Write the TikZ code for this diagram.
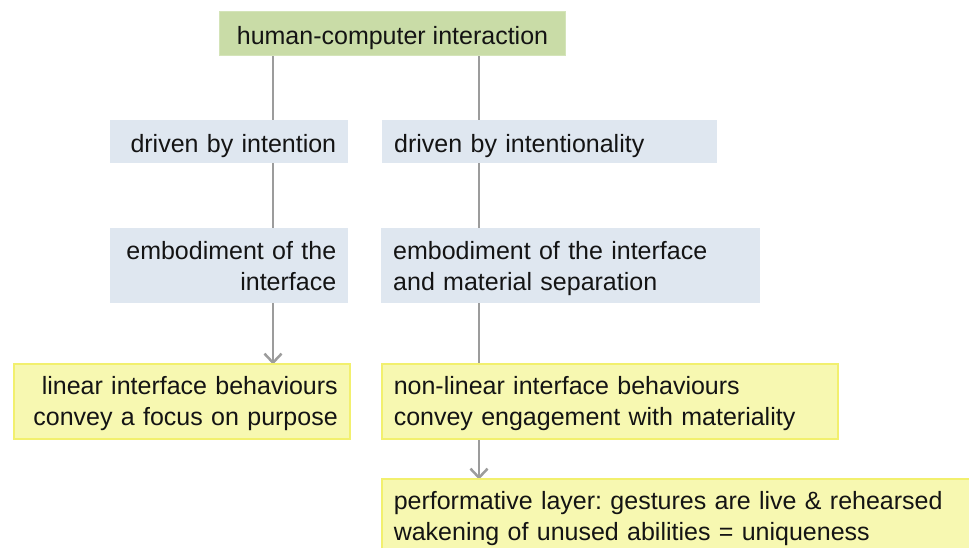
\documentclass[tikz,border=0pt]{standalone}
\usepackage{fontspec}
\setmainfont{Liberation Sans}
\usetikzlibrary{arrows.meta,backgrounds}
\definecolor{topgreen}{HTML}{C9DCA7}
\definecolor{topgreenline}{HTML}{D4E4B9}
\definecolor{bluebox}{HTML}{DFE7F0}
\definecolor{yellowbox}{HTML}{F7F8B1}
\definecolor{yellowline}{HTML}{F2F06E}
\definecolor{connline}{HTML}{9C9C9C}
\tikzset{
  basebox/.style={anchor=north west, inner xsep=12pt, inner ysep=0pt,
    font=\frenchspacing\fontsize{25}{31}\selectfont, text=black!92},
  oneline/.style={text height=27pt, text depth=5pt},
  twoline/.style={text height=23pt, text depth=36pt},
  greenbox/.style={basebox, fill=topgreen, draw=topgreenline, line width=1pt, align=center},
  bluebx/.style={basebox, fill=bluebox},
  yellowbx/.style={basebox, fill=yellowbox, draw=yellowline, line width=1.5pt},
  conn/.style={draw=connline, line width=2pt},
  connarrow/.style={conn, -{Straight Barb[length=9pt,width=17pt,line width=2.5pt]}}
}
\begin{document}
\begin{tikzpicture}[x=1pt,y=-1pt]
\useasboundingbox (0,0) rectangle (969,547);
\clip (0,0) rectangle (969,547);

\node[greenbox, oneline, minimum width=346pt, minimum height=44pt] (top) at (219,11) {human-computer interaction};

\node[bluebx, oneline, minimum width=238pt, minimum height=43pt, text width=214pt, align=right] (dl) at (110,120) {driven by intention};
\node[bluebx, oneline, minimum width=335pt, minimum height=43pt, text width=311pt, align=left] (dr) at (382,120) {driven by intentionality};

\node[bluebx, twoline, minimum width=238pt, minimum height=75pt, text width=214pt, align=right] (el) at (110,228) {embodiment of the\\interface};
\node[bluebx, twoline, minimum width=379pt, minimum height=75pt, text width=355pt, align=left] (er) at (381,228) {embodiment of the interface\\and material separation};

\node[yellowbx, twoline, minimum width=336pt, minimum height=75pt, text width=312pt, align=right] (yl) at (13,363) {linear interface behaviours\\convey a focus on purpose};
\node[yellowbx, twoline, minimum width=456pt, minimum height=75pt, text width=432pt, align=left] (yr) at (381,363) {non-linear interface behaviours\\convey engagement with materiality};

\node[yellowbx, twoline, minimum width=620pt, minimum height=75pt, text width=596pt, align=left] (bot) at (381,478) {performative layer: gestures are live \& rehearsed\\wakening of unused abilities = uniqueness};

\coordinate (xl) at (273,0);
\coordinate (xr) at (479,0);

\begin{scope}[on background layer]
\draw[connarrow] (top.south -| xl) -- ([yshift=-1.5pt]yl.north -| xl);
\draw[conn] (top.south -| xr) -- (yr.north -| xr);
\draw[connarrow] (yr.south -| xr) -- ([yshift=-1.5pt]bot.north -| xr);
\end{scope}
\end{tikzpicture}
\end{document}
